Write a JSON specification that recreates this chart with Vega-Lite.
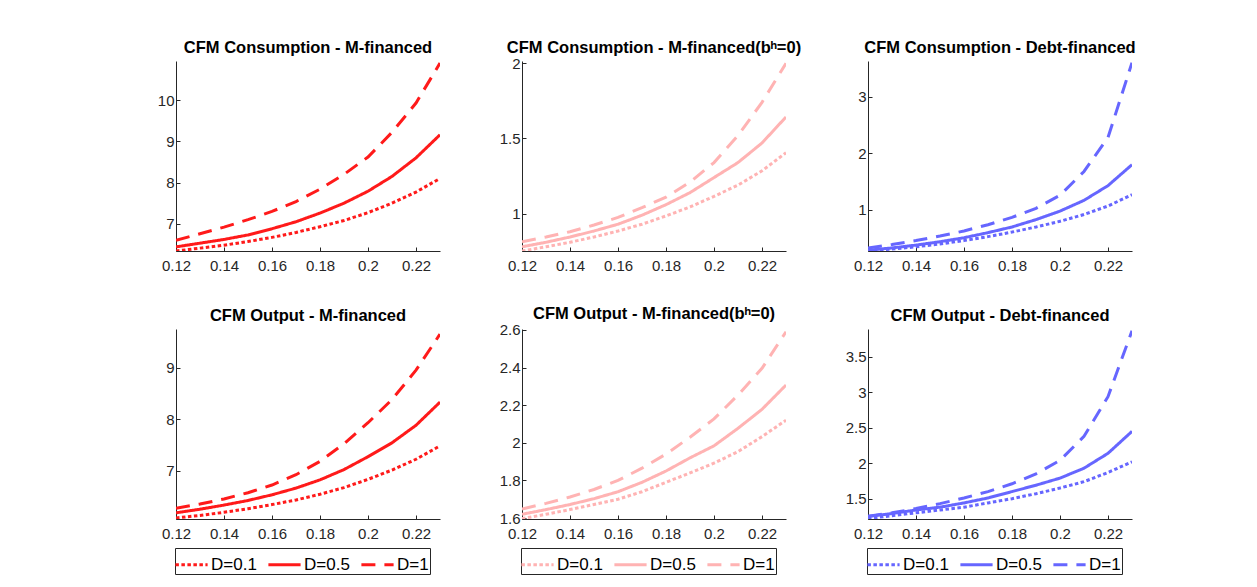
{
  "$schema": "https://vega.github.io/schema/vega-lite/v6.json",
  "padding": {"left": 157, "top": 39, "right": 5, "bottom": 5},
  "background": "white",
  "bounds": "flush",
  "columns": 3,
  "spacing": {"row": 78, "column": 82},
  "datasets": {
    "d": [
      {"p":1,"D":"D=0.1","x":0.12,"y":6.34},{"p":1,"D":"D=0.1","x":0.13,"y":6.41},{"p":1,"D":"D=0.1","x":0.14,"y":6.48},{"p":1,"D":"D=0.1","x":0.15,"y":6.57},{"p":1,"D":"D=0.1","x":0.16,"y":6.67},{"p":1,"D":"D=0.1","x":0.17,"y":6.79},{"p":1,"D":"D=0.1","x":0.18,"y":6.93},{"p":1,"D":"D=0.1","x":0.19,"y":7.08},{"p":1,"D":"D=0.1","x":0.2,"y":7.27},{"p":1,"D":"D=0.1","x":0.21,"y":7.50},{"p":1,"D":"D=0.1","x":0.22,"y":7.77},{"p":1,"D":"D=0.1","x":0.23,"y":8.10},
      {"p":1,"D":"D=0.5","x":0.12,"y":6.44},{"p":1,"D":"D=0.5","x":0.13,"y":6.53},{"p":1,"D":"D=0.5","x":0.14,"y":6.62},{"p":1,"D":"D=0.5","x":0.15,"y":6.73},{"p":1,"D":"D=0.5","x":0.16,"y":6.88},{"p":1,"D":"D=0.5","x":0.17,"y":7.05},{"p":1,"D":"D=0.5","x":0.18,"y":7.26},{"p":1,"D":"D=0.5","x":0.19,"y":7.50},{"p":1,"D":"D=0.5","x":0.2,"y":7.79},{"p":1,"D":"D=0.5","x":0.21,"y":8.15},{"p":1,"D":"D=0.5","x":0.22,"y":8.60},{"p":1,"D":"D=0.5","x":0.23,"y":9.16},
      {"p":1,"D":"D=1","x":0.12,"y":6.60},{"p":1,"D":"D=1","x":0.13,"y":6.76},{"p":1,"D":"D=1","x":0.14,"y":6.92},{"p":1,"D":"D=1","x":0.15,"y":7.10},{"p":1,"D":"D=1","x":0.16,"y":7.30},{"p":1,"D":"D=1","x":0.17,"y":7.54},{"p":1,"D":"D=1","x":0.18,"y":7.84},{"p":1,"D":"D=1","x":0.19,"y":8.20},{"p":1,"D":"D=1","x":0.2,"y":8.62},{"p":1,"D":"D=1","x":0.21,"y":9.22},{"p":1,"D":"D=1","x":0.22,"y":9.93},{"p":1,"D":"D=1","x":0.23,"y":10.9},

      {"p":2,"D":"D=0.1","x":0.12,"y":0.752},{"p":2,"D":"D=0.1","x":0.13,"y":0.78},{"p":2,"D":"D=0.1","x":0.14,"y":0.81},{"p":2,"D":"D=0.1","x":0.15,"y":0.845},{"p":2,"D":"D=0.1","x":0.16,"y":0.885},{"p":2,"D":"D=0.1","x":0.17,"y":0.93},{"p":2,"D":"D=0.1","x":0.18,"y":0.985},{"p":2,"D":"D=0.1","x":0.19,"y":1.045},{"p":2,"D":"D=0.1","x":0.2,"y":1.115},{"p":2,"D":"D=0.1","x":0.21,"y":1.19},{"p":2,"D":"D=0.1","x":0.22,"y":1.285},{"p":2,"D":"D=0.1","x":0.23,"y":1.405},
      {"p":2,"D":"D=0.5","x":0.12,"y":0.78},{"p":2,"D":"D=0.5","x":0.13,"y":0.81},{"p":2,"D":"D=0.5","x":0.14,"y":0.845},{"p":2,"D":"D=0.5","x":0.15,"y":0.885},{"p":2,"D":"D=0.5","x":0.16,"y":0.93},{"p":2,"D":"D=0.5","x":0.17,"y":0.99},{"p":2,"D":"D=0.5","x":0.18,"y":1.06},{"p":2,"D":"D=0.5","x":0.19,"y":1.14},{"p":2,"D":"D=0.5","x":0.2,"y":1.24},{"p":2,"D":"D=0.5","x":0.21,"y":1.34},{"p":2,"D":"D=0.5","x":0.22,"y":1.47},{"p":2,"D":"D=0.5","x":0.23,"y":1.643},
      {"p":2,"D":"D=1","x":0.12,"y":0.814},{"p":2,"D":"D=1","x":0.13,"y":0.845},{"p":2,"D":"D=1","x":0.14,"y":0.88},{"p":2,"D":"D=1","x":0.15,"y":0.925},{"p":2,"D":"D=1","x":0.16,"y":0.975},{"p":2,"D":"D=1","x":0.17,"y":1.04},{"p":2,"D":"D=1","x":0.18,"y":1.11},{"p":2,"D":"D=1","x":0.19,"y":1.21},{"p":2,"D":"D=1","x":0.2,"y":1.34},{"p":2,"D":"D=1","x":0.21,"y":1.52},{"p":2,"D":"D=1","x":0.22,"y":1.74},{"p":2,"D":"D=1","x":0.23,"y":2.0},

      {"p":3,"D":"D=0.1","x":0.12,"y":0.276},{"p":3,"D":"D=0.1","x":0.13,"y":0.31},{"p":3,"D":"D=0.1","x":0.14,"y":0.35},{"p":3,"D":"D=0.1","x":0.15,"y":0.40},{"p":3,"D":"D=0.1","x":0.16,"y":0.46},{"p":3,"D":"D=0.1","x":0.17,"y":0.53},{"p":3,"D":"D=0.1","x":0.18,"y":0.61},{"p":3,"D":"D=0.1","x":0.19,"y":0.70},{"p":3,"D":"D=0.1","x":0.2,"y":0.80},{"p":3,"D":"D=0.1","x":0.21,"y":0.92},{"p":3,"D":"D=0.1","x":0.22,"y":1.07},{"p":3,"D":"D=0.1","x":0.23,"y":1.27},
      {"p":3,"D":"D=0.5","x":0.12,"y":0.29},{"p":3,"D":"D=0.5","x":0.13,"y":0.33},{"p":3,"D":"D=0.5","x":0.14,"y":0.38},{"p":3,"D":"D=0.5","x":0.15,"y":0.44},{"p":3,"D":"D=0.5","x":0.16,"y":0.51},{"p":3,"D":"D=0.5","x":0.17,"y":0.60},{"p":3,"D":"D=0.5","x":0.18,"y":0.70},{"p":3,"D":"D=0.5","x":0.19,"y":0.83},{"p":3,"D":"D=0.5","x":0.2,"y":0.98},{"p":3,"D":"D=0.5","x":0.21,"y":1.17},{"p":3,"D":"D=0.5","x":0.22,"y":1.43},{"p":3,"D":"D=0.5","x":0.23,"y":1.80},
      {"p":3,"D":"D=1","x":0.12,"y":0.33},{"p":3,"D":"D=1","x":0.13,"y":0.39},{"p":3,"D":"D=1","x":0.14,"y":0.46},{"p":3,"D":"D=1","x":0.15,"y":0.54},{"p":3,"D":"D=1","x":0.16,"y":0.63},{"p":3,"D":"D=1","x":0.17,"y":0.74},{"p":3,"D":"D=1","x":0.18,"y":0.87},{"p":3,"D":"D=1","x":0.19,"y":1.03},{"p":3,"D":"D=1","x":0.2,"y":1.26},{"p":3,"D":"D=1","x":0.21,"y":1.68},{"p":3,"D":"D=1","x":0.22,"y":2.28},{"p":3,"D":"D=1","x":0.23,"y":3.6},

      {"p":4,"D":"D=0.1","x":0.12,"y":6.08},{"p":4,"D":"D=0.1","x":0.13,"y":6.13},{"p":4,"D":"D=0.1","x":0.14,"y":6.19},{"p":4,"D":"D=0.1","x":0.15,"y":6.26},{"p":4,"D":"D=0.1","x":0.16,"y":6.34},{"p":4,"D":"D=0.1","x":0.17,"y":6.43},{"p":4,"D":"D=0.1","x":0.18,"y":6.54},{"p":4,"D":"D=0.1","x":0.19,"y":6.67},{"p":4,"D":"D=0.1","x":0.2,"y":6.83},{"p":4,"D":"D=0.1","x":0.21,"y":7.01},{"p":4,"D":"D=0.1","x":0.22,"y":7.22},{"p":4,"D":"D=0.1","x":0.23,"y":7.48},
      {"p":4,"D":"D=0.5","x":0.12,"y":6.18},{"p":4,"D":"D=0.5","x":0.13,"y":6.25},{"p":4,"D":"D=0.5","x":0.14,"y":6.33},{"p":4,"D":"D=0.5","x":0.15,"y":6.42},{"p":4,"D":"D=0.5","x":0.16,"y":6.53},{"p":4,"D":"D=0.5","x":0.17,"y":6.66},{"p":4,"D":"D=0.5","x":0.18,"y":6.82},{"p":4,"D":"D=0.5","x":0.19,"y":7.02},{"p":4,"D":"D=0.5","x":0.2,"y":7.27},{"p":4,"D":"D=0.5","x":0.21,"y":7.54},{"p":4,"D":"D=0.5","x":0.22,"y":7.88},{"p":4,"D":"D=0.5","x":0.23,"y":8.33},
      {"p":4,"D":"D=1","x":0.12,"y":6.27},{"p":4,"D":"D=1","x":0.13,"y":6.35},{"p":4,"D":"D=1","x":0.14,"y":6.45},{"p":4,"D":"D=1","x":0.15,"y":6.57},{"p":4,"D":"D=1","x":0.16,"y":6.72},{"p":4,"D":"D=1","x":0.17,"y":6.92},{"p":4,"D":"D=1","x":0.18,"y":7.18},{"p":4,"D":"D=1","x":0.19,"y":7.52},{"p":4,"D":"D=1","x":0.2,"y":7.93},{"p":4,"D":"D=1","x":0.21,"y":8.38},{"p":4,"D":"D=1","x":0.22,"y":8.95},{"p":4,"D":"D=1","x":0.23,"y":9.65},

      {"p":5,"D":"D=0.1","x":0.12,"y":1.597},{"p":5,"D":"D=0.1","x":0.13,"y":1.62},{"p":5,"D":"D=0.1","x":0.14,"y":1.645},{"p":5,"D":"D=0.1","x":0.15,"y":1.672},{"p":5,"D":"D=0.1","x":0.16,"y":1.70},{"p":5,"D":"D=0.1","x":0.17,"y":1.74},{"p":5,"D":"D=0.1","x":0.18,"y":1.79},{"p":5,"D":"D=0.1","x":0.19,"y":1.84},{"p":5,"D":"D=0.1","x":0.2,"y":1.892},{"p":5,"D":"D=0.1","x":0.21,"y":1.953},{"p":5,"D":"D=0.1","x":0.22,"y":2.033},{"p":5,"D":"D=0.1","x":0.23,"y":2.12},
      {"p":5,"D":"D=0.5","x":0.12,"y":1.62},{"p":5,"D":"D=0.5","x":0.13,"y":1.645},{"p":5,"D":"D=0.5","x":0.14,"y":1.672},{"p":5,"D":"D=0.5","x":0.15,"y":1.703},{"p":5,"D":"D=0.5","x":0.16,"y":1.74},{"p":5,"D":"D=0.5","x":0.17,"y":1.79},{"p":5,"D":"D=0.5","x":0.18,"y":1.85},{"p":5,"D":"D=0.5","x":0.19,"y":1.92},{"p":5,"D":"D=0.5","x":0.2,"y":1.984},{"p":5,"D":"D=0.5","x":0.21,"y":2.077},{"p":5,"D":"D=0.5","x":0.22,"y":2.178},{"p":5,"D":"D=0.5","x":0.23,"y":2.307},
      {"p":5,"D":"D=1","x":0.12,"y":1.648},{"p":5,"D":"D=1","x":0.13,"y":1.678},{"p":5,"D":"D=1","x":0.14,"y":1.712},{"p":5,"D":"D=1","x":0.15,"y":1.752},{"p":5,"D":"D=1","x":0.16,"y":1.80},{"p":5,"D":"D=1","x":0.17,"y":1.865},{"p":5,"D":"D=1","x":0.18,"y":1.94},{"p":5,"D":"D=1","x":0.19,"y":2.03},{"p":5,"D":"D=1","x":0.2,"y":2.127},{"p":5,"D":"D=1","x":0.21,"y":2.254},{"p":5,"D":"D=1","x":0.22,"y":2.396},{"p":5,"D":"D=1","x":0.23,"y":2.59},

      {"p":6,"D":"D=0.1","x":0.12,"y":1.22},{"p":6,"D":"D=0.1","x":0.13,"y":1.26},{"p":6,"D":"D=0.1","x":0.14,"y":1.30},{"p":6,"D":"D=0.1","x":0.15,"y":1.34},{"p":6,"D":"D=0.1","x":0.16,"y":1.38},{"p":6,"D":"D=0.1","x":0.17,"y":1.44},{"p":6,"D":"D=0.1","x":0.18,"y":1.50},{"p":6,"D":"D=0.1","x":0.19,"y":1.57},{"p":6,"D":"D=0.1","x":0.2,"y":1.65},{"p":6,"D":"D=0.1","x":0.21,"y":1.74},{"p":6,"D":"D=0.1","x":0.22,"y":1.87},{"p":6,"D":"D=0.1","x":0.23,"y":2.02},
      {"p":6,"D":"D=0.5","x":0.12,"y":1.25},{"p":6,"D":"D=0.5","x":0.13,"y":1.29},{"p":6,"D":"D=0.5","x":0.14,"y":1.34},{"p":6,"D":"D=0.5","x":0.15,"y":1.38},{"p":6,"D":"D=0.5","x":0.16,"y":1.44},{"p":6,"D":"D=0.5","x":0.17,"y":1.51},{"p":6,"D":"D=0.5","x":0.18,"y":1.60},{"p":6,"D":"D=0.5","x":0.19,"y":1.69},{"p":6,"D":"D=0.5","x":0.2,"y":1.79},{"p":6,"D":"D=0.5","x":0.21,"y":1.93},{"p":6,"D":"D=0.5","x":0.22,"y":2.14},{"p":6,"D":"D=0.5","x":0.23,"y":2.45},
      {"p":6,"D":"D=1","x":0.12,"y":1.25},{"p":6,"D":"D=1","x":0.13,"y":1.30},{"p":6,"D":"D=1","x":0.14,"y":1.36},{"p":6,"D":"D=1","x":0.15,"y":1.43},{"p":6,"D":"D=1","x":0.16,"y":1.51},{"p":6,"D":"D=1","x":0.17,"y":1.60},{"p":6,"D":"D=1","x":0.18,"y":1.71},{"p":6,"D":"D=1","x":0.19,"y":1.85},{"p":6,"D":"D=1","x":0.2,"y":2.04},{"p":6,"D":"D=1","x":0.21,"y":2.38},{"p":6,"D":"D=1","x":0.22,"y":2.94},{"p":6,"D":"D=1","x":0.23,"y":3.87}
    ]
  },
  "resolve": {"scale": {"x": "independent", "y": "independent", "strokeDash": "independent"}, "axis": {"x": "independent", "y": "independent"}, "legend": {"strokeDash": "independent"}},
  "concat": [
    {
      "width": 264, "height": 190,
      "title": {"text": "CFM Consumption - M-financed", "offset": 5},
      "data": {"name": "d"},
      "transform": [{"filter": "datum.p == 1"}],
      "mark": {"type": "line", "color": "#FF1A1A", "clip": true},
      "encoding": {
        "x": {"field": "x", "type": "quantitative", "scale": {"domain": [0.12, 0.23], "nice": false, "zero": false}, "axis": {"values": [0.12, 0.14, 0.16, 0.18, 0.2, 0.22], "format": "~r", "title": null}},
        "y": {"field": "y", "type": "quantitative", "scale": {"domain": [6.34, 10.95], "nice": false, "zero": false}, "axis": {"values": [7, 8, 9, 10], "format": "~r", "title": null}},
        "strokeDash": {"field": "D", "type": "nominal", "scale": {"domain": ["D=0.1", "D=0.5", "D=1"], "range": [[3.5, 2.5], [1, 0], [14, 9]]}, "legend": null}
      }
    },
    {
      "width": 264, "height": 190,
      "title": {"text": "CFM Consumption - M-financed(bʰ=0)", "offset": 0},
      "data": {"name": "d"},
      "transform": [{"filter": "datum.p == 2"}],
      "mark": {"type": "line", "color": "#FFB3B3", "clip": true},
      "encoding": {
        "x": {"field": "x", "type": "quantitative", "scale": {"domain": [0.12, 0.23], "nice": false, "zero": false}, "axis": {"values": [0.12, 0.14, 0.16, 0.18, 0.2, 0.22], "format": "~r", "title": null}},
        "y": {"field": "y", "type": "quantitative", "scale": {"domain": [0.752, 2.015], "nice": false, "zero": false}, "axis": {"values": [1, 1.5, 2], "format": "~r", "title": null}},
        "strokeDash": {"field": "D", "type": "nominal", "scale": {"domain": ["D=0.1", "D=0.5", "D=1"], "range": [[3.5, 2.5], [1, 0], [14, 9]]}, "legend": null}
      }
    },
    {
      "width": 264, "height": 190,
      "title": {"text": "CFM Consumption - Debt-financed", "offset": 5},
      "data": {"name": "d"},
      "transform": [{"filter": "datum.p == 3"}],
      "mark": {"type": "line", "color": "#6666FF", "clip": true},
      "encoding": {
        "x": {"field": "x", "type": "quantitative", "scale": {"domain": [0.12, 0.23], "nice": false, "zero": false}, "axis": {"values": [0.12, 0.14, 0.16, 0.18, 0.2, 0.22], "format": "~r", "title": null}},
        "y": {"field": "y", "type": "quantitative", "scale": {"domain": [0.276, 3.63], "nice": false, "zero": false}, "axis": {"values": [1, 2, 3], "format": "~r", "title": null}},
        "strokeDash": {"field": "D", "type": "nominal", "scale": {"domain": ["D=0.1", "D=0.5", "D=1"], "range": [[3.5, 2.5], [1, 0], [14, 9]]}, "legend": null}
      }
    },
    {
      "width": 264, "height": 190,
      "title": {"text": "CFM Output - M-financed", "offset": 5},
      "data": {"name": "d"},
      "transform": [{"filter": "datum.p == 4"}],
      "mark": {"type": "line", "color": "#FF1A1A", "clip": true},
      "encoding": {
        "x": {"field": "x", "type": "quantitative", "scale": {"domain": [0.12, 0.23], "nice": false, "zero": false}, "axis": {"values": [0.12, 0.14, 0.16, 0.18, 0.2, 0.22], "format": "~r", "title": null}},
        "y": {"field": "y", "type": "quantitative", "scale": {"domain": [6.06, 9.75], "nice": false, "zero": false}, "axis": {"values": [7, 8, 9], "format": "~r", "title": null}},
        "strokeDash": {"field": "D", "type": "nominal", "scale": {"domain": ["D=0.1", "D=0.5", "D=1"], "range": [[3.5, 2.5], [1, 0], [14, 9]]}, "legend": {"title": null, "orient": "none", "legendX": -1, "legendY": 219, "direction": "horizontal", "symbolStrokeColor": "#FF1A1A"}}
      }
    },
    {
      "width": 264, "height": 190,
      "title": {"text": "CFM Output - M-financed(bʰ=0)", "offset": 0},
      "data": {"name": "d"},
      "transform": [{"filter": "datum.p == 5"}],
      "mark": {"type": "line", "color": "#FFB3B3", "clip": true},
      "encoding": {
        "x": {"field": "x", "type": "quantitative", "scale": {"domain": [0.12, 0.23], "nice": false, "zero": false}, "axis": {"values": [0.12, 0.14, 0.16, 0.18, 0.2, 0.22], "format": "~r", "title": null}},
        "y": {"field": "y", "type": "quantitative", "scale": {"domain": [1.595, 2.605], "nice": false, "zero": false}, "axis": {"values": [1.6, 1.8, 2, 2.2, 2.4, 2.6], "format": "~r", "title": null}},
        "strokeDash": {"field": "D", "type": "nominal", "scale": {"domain": ["D=0.1", "D=0.5", "D=1"], "range": [[3.5, 2.5], [1, 0], [14, 9]]}, "legend": {"title": null, "orient": "none", "legendX": -1, "legendY": 219, "direction": "horizontal", "symbolStrokeColor": "#FFB3B3"}}
      }
    },
    {
      "width": 264, "height": 190,
      "title": {"text": "CFM Output - Debt-financed", "offset": 5},
      "data": {"name": "d"},
      "transform": [{"filter": "datum.p == 6"}],
      "mark": {"type": "line", "color": "#6666FF", "clip": true},
      "encoding": {
        "x": {"field": "x", "type": "quantitative", "scale": {"domain": [0.12, 0.23], "nice": false, "zero": false}, "axis": {"values": [0.12, 0.14, 0.16, 0.18, 0.2, 0.22], "format": "~r", "title": null}},
        "y": {"field": "y", "type": "quantitative", "scale": {"domain": [1.213, 3.895], "nice": false, "zero": false}, "axis": {"values": [1.5, 2, 2.5, 3, 3.5], "format": "~r", "title": null}},
        "strokeDash": {"field": "D", "type": "nominal", "scale": {"domain": ["D=0.1", "D=0.5", "D=1"], "range": [[3.5, 2.5], [1, 0], [14, 9]]}, "legend": {"title": null, "orient": "none", "legendX": -1, "legendY": 219, "direction": "horizontal", "symbolStrokeColor": "#6666FF"}}
      }
    }
  ],
  "config": {
    "view": {"stroke": null},
    "font": "Liberation Sans",
    "line": {"strokeWidth": 3},
    "axis": {"domainColor": "#262626", "tickColor": "#262626", "labelColor": "#262626", "labelFont": "Liberation Sans", "labelFontSize": 15, "grid": false, "tickSize": -4, "domainWidth": 1, "labelFlush": false, "labelOverlap": false},
    "axisX": {"labelPadding": 11},
    "axisY": {"labelPadding": 6},
    "title": {"fontSize": 16.5, "fontWeight": "bold", "color": "#000000", "anchor": "middle", "frame": "group", "font": "Liberation Sans"},
    "legend": {"symbolType": "M-1.15,0H1.15", "symbolSize": 784, "symbolStrokeWidth": 3, "labelFontSize": 17, "labelColor": "#000000", "labelFont": "Liberation Sans", "labelOffset": 4, "columnPadding": 5, "padding": 1, "strokeColor": "#262626", "fillColor": "#FFFFFF", "labelLimit": 200}
  }
}
